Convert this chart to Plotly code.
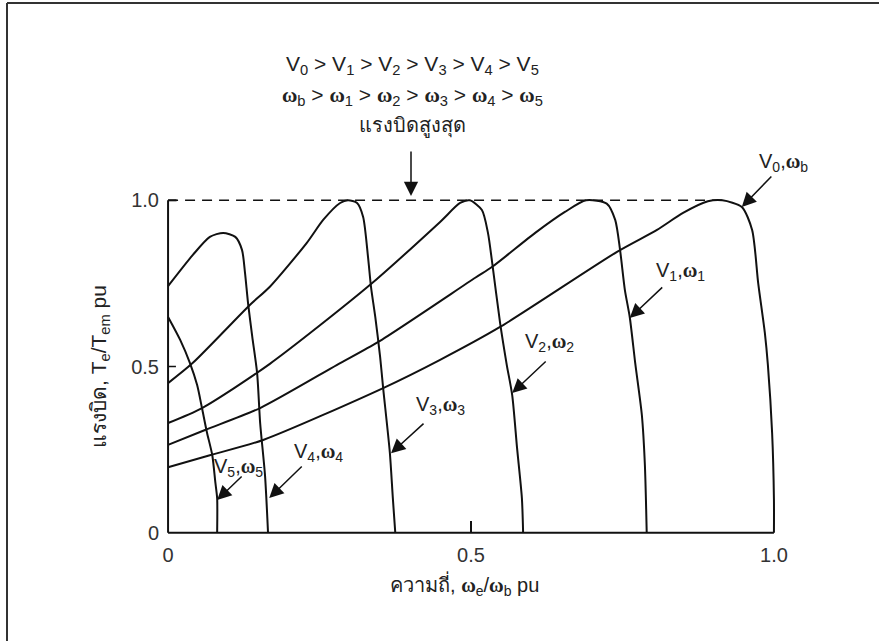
import plotly.graph_objects as go

# ---- torque / frequency curves for each (V, ω) pair (per-unit) ----
v0_x = [0.0, 0.069, 0.157, 0.355, 0.449, 0.548, 0.741, 0.807, 0.850, 0.891, 0.915, 0.947, 0.964, 0.974, 0.985, 0.990, 0.997, 1.0, 1.0]
v0_y = [0.197, 0.233, 0.279, 0.435, 0.520, 0.619, 0.845, 0.911, 0.962, 0.997, 1.0, 0.980, 0.911, 0.751, 0.601, 0.505, 0.300, 0.100, 0.0]

v1_x = [0.0, 0.061, 0.152, 0.279, 0.347, 0.507, 0.535, 0.606, 0.655, 0.690, 0.724, 0.738, 0.746, 0.754, 0.762, 0.771, 0.782, 0.787, 0.790]
v1_y = [0.264, 0.309, 0.375, 0.505, 0.574, 0.767, 0.800, 0.902, 0.965, 1.0, 0.990, 0.941, 0.851, 0.730, 0.649, 0.511, 0.354, 0.203, 0.0]

v2_x = [0.0, 0.056, 0.168, 0.333, 0.449, 0.482, 0.498, 0.518, 0.528, 0.535, 0.548, 0.559, 0.568, 0.576, 0.584, 0.586]
v2_y = [0.330, 0.375, 0.508, 0.745, 0.935, 0.992, 1.0, 0.971, 0.902, 0.812, 0.631, 0.505, 0.414, 0.255, 0.104, 0.0]

v3_x = [0.0, 0.041, 0.135, 0.168, 0.229, 0.256, 0.284, 0.297, 0.312, 0.322, 0.330, 0.335, 0.342, 0.350, 0.355, 0.366, 0.371, 0.375]
v3_y = [0.450, 0.511, 0.685, 0.740, 0.872, 0.941, 0.992, 1.0, 0.992, 0.950, 0.830, 0.739, 0.649, 0.529, 0.435, 0.242, 0.104, 0.0]

v4_x = [0.0, 0.041, 0.069, 0.091, 0.111, 0.122, 0.127, 0.132, 0.139, 0.147, 0.152, 0.160, 0.165]
v4_y = [0.742, 0.836, 0.890, 0.902, 0.890, 0.851, 0.782, 0.691, 0.589, 0.480, 0.330, 0.173, 0.0]

v5_x = [0.0, 0.020, 0.036, 0.048, 0.056, 0.064, 0.073, 0.078, 0.081, 0.081]
v5_y = [0.649, 0.580, 0.511, 0.444, 0.375, 0.303, 0.233, 0.152, 0.104, 0.0]

# maximum-torque level (dashed)
tmax_x = [0.0, 0.922]
tmax_y = [1.0, 1.0]

# axis ticks
tick_vals = [0.0, 0.5, 1.0]
tick_text = ["0", "0.5", "1.0"]

OM = "<span style='font-family:Liberation Serif'><b>ω</b></span>"

# curve labels: text, arrow tip (data), tail offset (px), text position (data)
curve_labels = [
    ("V<sub>0</sub>," + OM + "<sub>b</sub>", (0.947, 0.980), (31, -32), (1.015, 1.113)),
    ("V<sub>1</sub>," + OM + "<sub>1</sub>", (0.762, 0.646), (34, -32), (0.845, 0.785)),
    ("V<sub>2</sub>," + OM + "<sub>2</sub>", (0.568, 0.420), (35, -33), (0.630, 0.571)),
    ("V<sub>3</sub>," + OM + "<sub>3</sub>", (0.368, 0.239), (34, -31), (0.449, 0.384)),
    ("V<sub>4</sub>," + OM + "<sub>4</sub>", (0.167, 0.104), (34, -33), (0.248, 0.242)),
    ("V<sub>5</sub>," + OM + "<sub>5</sub>", (0.081, 0.098), (26, -25), (0.116, 0.197)),
]

W, H = 879, 641
ML, MR, MT, MB = 162, 99, 197, 105
PW, PH = W - ML - MR, H - MT - MB
XR = [-0.01, 1.01]
YR = [-0.01, 1.01]

def paper_x(px):
    return (px - ML) / PW

def paper_y(py):
    return (H - MB - py) / PH

def data_to_paper(x, y):
    return (x - XR[0]) / (XR[1] - XR[0]), (y - YR[0]) / (YR[1] - YR[0])

INK = "#111111"
TXT = "#222222"
FONT = "Liberation Sans, Arial, sans-serif"
FS = 20

fig = go.Figure()
for xs, ys in [(v0_x, v0_y), (v1_x, v1_y), (v2_x, v2_y), (v3_x, v3_y), (v4_x, v4_y), (v5_x, v5_y)]:
    fig.add_trace(go.Scatter(x=xs, y=ys, mode="lines",
                             line=dict(color=INK, width=2, shape="spline", smoothing=0.7),
                             hoverinfo="skip", showlegend=False))
fig.add_trace(go.Scatter(x=tmax_x, y=tmax_y, mode="lines",
                         line=dict(color=INK, width=1.6, dash="10px,7px"),
                         hoverinfo="skip", showlegend=False))

shapes = [
    # axes
    dict(type="line", xref="x", yref="y", x0=0, y0=0, x1=0, y1=1.0, line=dict(color=INK, width=2)),
    dict(type="line", xref="x", yref="y", x0=0, y0=0, x1=1.0, y1=0, line=dict(color=INK, width=2)),
    dict(type="line", xref="x", yref="y", x0=0, y0=1.0, x1=0.014, y1=1.0, line=dict(color=INK, width=2)),
    dict(type="line", xref="x", yref="y", x0=0, y0=0.5, x1=0.013, y1=0.5, line=dict(color=INK, width=1.5)),
    dict(type="line", xref="x", yref="y", x0=0.5, y0=0, x1=0.5, y1=0.035, line=dict(color=INK, width=2)),
    # frame
    dict(type="line", xref="paper", yref="paper", x0=paper_x(7), y0=paper_y(3), x1=paper_x(W + 5), y1=paper_y(3),
         line=dict(color="#333333", width=2)),
    dict(type="line", xref="paper", yref="paper", x0=paper_x(7), y0=paper_y(3), x1=paper_x(7), y1=paper_y(H + 5),
         line=dict(color="#333333", width=2)),
]

ARROW = dict(showarrow=True, arrowhead=2, arrowsize=1.9, arrowwidth=1.5, arrowcolor=INK, text="")

annotations = []
for text, tip, off, pos in curve_labels:
    tx, ty = data_to_paper(*tip)
    annotations.append(dict(x=tx, y=ty, xref="paper", yref="paper", ax=off[0], ay=off[1], **ARROW))
    lx, ly = data_to_paper(*pos)
    annotations.append(dict(x=lx, y=ly, xref="paper", yref="paper", text=text, showarrow=False,
                            xanchor="center", yanchor="middle", font=dict(family=FONT, size=FS, color=TXT)))

def text_at(px, py, text, size=FS, **kw):
    return dict(x=paper_x(px), y=paper_y(py), xref="paper", yref="paper", showarrow=False,
                xanchor="center", yanchor="middle", text=text,
                font=dict(family=FONT, size=size, color=TXT), **kw)

# heading lines and the max-torque arrow
annotations += [
    text_at(412, 65, "V<sub>0</sub> > V<sub>1</sub> > V<sub>2</sub> > V<sub>3</sub> > V<sub>4</sub> > V<sub>5</sub>", 21),
    text_at(412, 96, OM + "<sub>b</sub> > " + OM + "<sub>1</sub> > " + OM + "<sub>2</sub> > " + OM + "<sub>3</sub> > "
            + OM + "<sub>4</sub> > " + OM + "<sub>5</sub>", 21),
    text_at(412, 126, "แรงบิดสูงสุด", 20),
    dict(x=paper_x(411), y=paper_y(196), xref="paper", yref="paper", ax=0, ay=-46, **ARROW),
    # axis titles
    text_at(464, 585, "ความถี่, " + OM + "<sub>e</sub>/" + OM + "<sub>b</sub> pu", 20),
    text_at(100, 367, "แรงบิด, T<sub>e</sub>/T<sub>em</sub> pu", 21, textangle=-90),
]

axis_common = dict(showgrid=False, zeroline=False, showline=False, ticks="",
                   tickvals=tick_vals, ticktext=tick_text,
                   tickfont=dict(family=FONT, size=FS, color="#333333"), fixedrange=True)

fig.update_layout(
    width=W, height=H,
    margin=dict(l=ML, r=MR, t=MT, b=MB),
    paper_bgcolor="white", plot_bgcolor="white",
    xaxis=dict(range=XR, **axis_common, ticklabelstandoff=5),
    yaxis=dict(range=YR, **axis_common, ticklabelstandoff=2),
    shapes=shapes,
    annotations=annotations,
    showlegend=False,
)

fig.write_html("out.html", config={"displayModeBar": False})
